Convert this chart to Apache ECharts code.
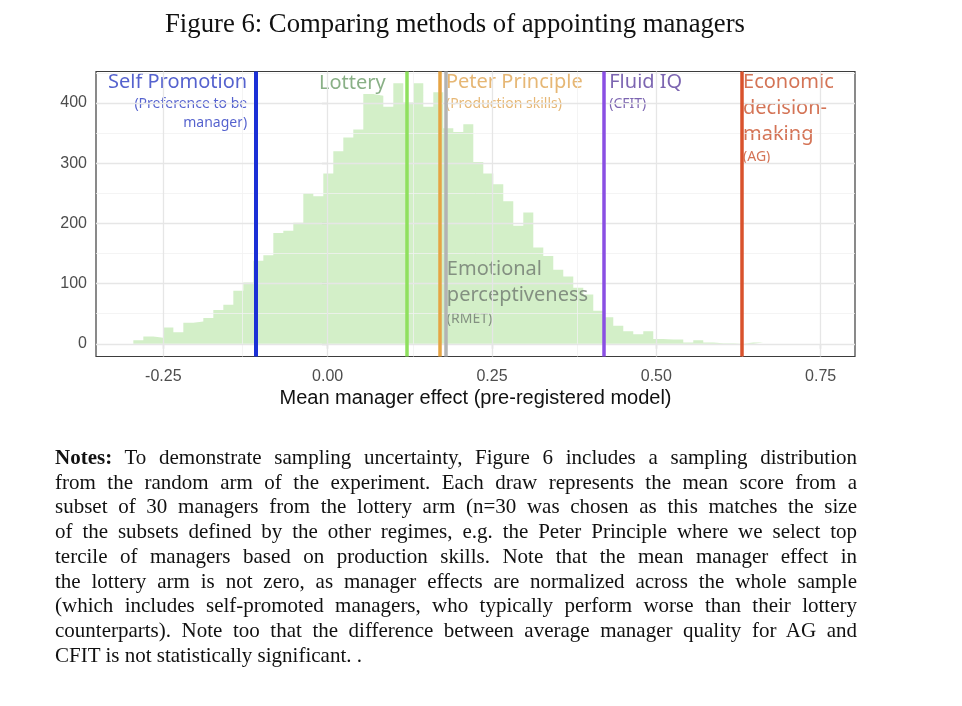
<!DOCTYPE html>
<html lang="en">
<head>
<meta charset="UTF-8">
<title>Figure 6: Comparing methods of appointing managers</title>
<script src="https://cdn.jsdelivr.net/npm/echarts@6.0.0/dist/echarts.min.js"></script>
<style>
    html, body { margin: 0; padding: 0; background: #fff; }
    #wrap { position: relative; width: 962px; height: 706px; overflow: hidden; }
    #main { position: absolute; left: 0; top: 0; width: 962px; height: 706px; }
    #title {
        position: absolute; top: 8px; left: 0; width: 910px;
        text-align: center; white-space: nowrap;
        font-family: "Liberation Serif", serif; font-size: 23px; color: #111;
    }
    #notes {
        position: absolute; left: 55px; top: 445px; width: 802px;
        font-family: "Liberation Serif", serif; font-size: 20px; line-height: 24.7px; color: #111;
    }
    #notes div { text-align: justify; text-align-last: justify; }
    #notes div.last { text-align: left; text-align-last: left; }
</style>
</head>
<body>
<div id="wrap">
    <div id="main"></div>
    <div id="title">Figure 6: Comparing methods of appointing managers</div>
    <div id="notes">
        <div><b>Notes:</b> To demonstrate sampling uncertainty, Figure 6 includes a sampling distribution</div>
        <div>from the random arm of the experiment. Each draw represents the mean score from a</div>
        <div>subset of 30 managers from the lottery arm (n=30 was chosen as this matches the size</div>
        <div>of the subsets defined by the other regimes, e.g. the Peter Principle where we select top</div>
        <div>tercile of managers based on production skills. Note that the mean manager effect in</div>
        <div>the lottery arm is not zero, as manager effects are normalized across the whole sample</div>
        <div>(which includes self-promoted managers, who typically perform worse than their lottery</div>
        <div>counterparts). Note too that the difference between average manager quality for AG and</div>
        <div class="last">CFIT is not statistically significant. .</div>
    </div>
</div>

<script>
    // histogram of the lottery-arm sampling distribution (count per bin)
    var binStart = -0.2956;
    var binWidth = 0.01521;
    var counts = [6, 12, 10, 27, 19, 35, 37, 43, 56, 65,
                  88, 102, 138, 147, 184, 188, 201, 250, 245, 283,
                  320, 343, 356, 415, 412, 394, 433, 401, 433, 394,
                  418, 358, 352, 365, 302, 283, 265, 237, 196, 218,
                  160, 146, 123, 112, 93, 82, 55, 44, 30, 21,
                  16, 21, 8, 7, 7, 2, 6, 2, 1, 1,
                  0, 2, 2];

    // mean manager effect of each appointment regime
    var regimes = ['Self Promotion', 'Lottery', 'Peter Principle',
                   'Emotional perceptiveness', 'Fluid IQ', 'Economic decision-making'];
    var regimeMeans = [-0.108, 0.118, 0.167, 0.176, 0.423, 0.625];
    var regimeColors = ['#1b30d6', '#8fe05e', '#e6a444', '#b3b3b3', '#8a4fe3', '#d9522c'];

    var xTicks = [-0.25, 0, 0.25, 0.5, 0.75];
    var xMinor = [-0.125, 0.125, 0.375, 0.625];
    var yTicks = [0, 100, 200, 300, 400];
    var yMinor = [50, 150, 250, 350, 450];

    var xMin = -0.3524, xMax = 0.8022;
    var yMin = -21.1, yMax = 452.5;

    // fit the caption fonts to the page widths
    function textWidth(txt, font) {
        var ctx = textWidth.ctx || (textWidth.ctx = document.createElement('canvas').getContext('2d'));
        ctx.font = font;
        return ctx.measureText(txt).width;
    }
    var titleEl = document.getElementById('title');
    var tw = textWidth(titleEl.textContent, '100px "Liberation Serif"');
    titleEl.style.fontSize = (100 * 580 / tw).toFixed(2) + 'px';

    var lines = document.querySelectorAll('#notes div');
    var widest = 0;
    lines.forEach(function (d) {
        var w = textWidth(d.textContent, '100px "Liberation Serif"');
        if (d.querySelector('b')) w += textWidth('Notes:', 'bold 100px "Liberation Serif"') - textWidth('Notes:', '100px "Liberation Serif"');
        widest = Math.max(widest, w);
    });
    var noteSize = Math.min(21, 100 * 790 / widest);
    document.getElementById('notes').style.fontSize = noteSize.toFixed(2) + 'px';

    var steps = counts.map(function (c, i) { return [binStart + i * binWidth, c]; });
    steps.push([binStart + counts.length * binWidth, counts[counts.length - 1]]);

    function grid(vals, axis, color, width) {
        return vals.map(function (v) {
            var o = { lineStyle: { color: color, width: width, type: 'solid' } };
            o[axis] = v;
            return o;
        });
    }

    var font = '"Noto Sans", sans-serif';
    function rich(color) {
        return {
            a: { fontFamily: font, fontSize: 20, lineHeight: 24, color: color },
            e: { fontFamily: font, fontSize: 20, lineHeight: 26, color: color },
            m: { fontFamily: font, fontSize: 20, lineHeight: 26.5, color: color },
            b: { fontFamily: font, fontSize: 14, lineHeight: 19, color: color },
            c: { fontFamily: font, fontSize: 14, lineHeight: 20, color: color }
        };
    }
    var annotations = [
        { value: [regimeMeans[0], yMax], label: { position: [-9, -0.7], align: 'right',
            formatter: '{a|Self Promotion}\n{b|(Preference to be}\n{b|manager)}', rich: rich('#2a3bc2') } },
        { value: [regimeMeans[1], yMax], label: { position: [-19, 0], align: 'right',
            formatter: '{a|Lottery}', rich: rich('#6c9c68') } },
        { value: [regimeMeans[2], yMax], label: { position: [9, -1], align: 'left',
            formatter: '{a|Peter Principle}\n{c|(Production skills)}', rich: rich('#e0a552') } },
        { value: [regimeMeans[3], 145], label: { position: [4, 0], align: 'left',
            formatter: '{m|Emotional}\n{m|perceptiveness}\n{c|(RMET)}', rich: rich('#6f786f') } },
        { value: [regimeMeans[4], yMax], label: { position: [4, -1], align: 'left',
            formatter: '{a|Fluid IQ}\n{c|(CFIT)}', rich: rich('#5b3f9e') } },
        { value: [regimeMeans[5], yMax], label: { position: [5, -2], align: 'left',
            formatter: '{e|Economic}\n{e|decision-}\n{e|making}\n{c|(AG)}', rich: rich('#c9512c') } }
    ];

    var myChart = echarts.init(document.getElementById('main'));
    var option = {
        animation: false,
        grid: {
            left: 96, top: 71.5, width: 759, height: 285,
            show: true, backgroundColor: '#fff', borderColor: '#3d3d3d', borderWidth: 1.2
        },
        xAxis: {
            type: 'value', min: xMin, max: xMax,
            name: 'Mean manager effect (pre-registered model)',
            nameLocation: 'middle', nameGap: 32,
            nameTextStyle: { fontFamily: '"Liberation Sans", Arial', fontSize: 20, color: '#111' },
            axisLine: { show: false },
            splitLine: { show: false },
            axisTick: { show: true, customValues: xTicks, length: 5, lineStyle: { color: '#333', width: 1.1 } },
            axisLabel: {
                customValues: xTicks, margin: 12,
                fontFamily: '"Liberation Sans", Arial', fontSize: 16, color: '#4d4d4d',
                formatter: function (v) { return v.toFixed(2); }
            }
        },
        yAxis: {
            type: 'value', min: yMin, max: yMax,
            axisLine: { show: false },
            splitLine: { show: false },
            axisTick: { show: true, customValues: yTicks, length: 6, lineStyle: { color: '#333', width: 1.1 } },
            axisLabel: {
                customValues: yTicks, margin: 9,
                fontFamily: '"Liberation Sans", Arial', fontSize: 16, color: '#4d4d4d'
            }
        },
        series: [
            {
                name: 'grid',
                type: 'line', data: [], z: 1, silent: true,
                markLine: {
                    silent: true, symbol: ['none', 'none'], label: { show: false },
                    animation: false,
                    data: [].concat(
                        grid(xMinor, 'xAxis', '#f1f1f1', 0.8),
                        grid(yMinor, 'yAxis', '#f1f1f1', 0.8),
                        grid(xTicks, 'xAxis', '#e6e6e6', 1.3),
                        grid(yTicks, 'yAxis', '#e6e6e6', 1.3)
                    )
                }
            },
            {
                name: 'lottery draws',
                type: 'line', step: 'end', data: steps, z: 2,
                symbol: 'none', silent: true,
                lineStyle: { opacity: 0, width: 0 },
                areaStyle: { color: 'rgba(140, 212, 110, 0.38)', opacity: 1 }
            },
            {
                name: 'regimes',
                type: 'line', data: [], z: 3, silent: true,
                markLine: {
                    silent: true, symbol: ['none', 'none'], label: { show: false },
                    animation: false,
                    data: regimeMeans.map(function (v, i) {
                        return { xAxis: v, name: regimes[i],
                                 lineStyle: { color: regimeColors[i], width: i === 0 ? 4 : 3.5, type: 'solid' } };
                    })
                }
            },
            {
                name: 'labels',
                type: 'scatter', z: 4, silent: true,
                symbolSize: 1, itemStyle: { color: 'rgba(0,0,0,0)' },
                label: { show: true, verticalAlign: 'top' },
                data: annotations
            }
        ]
    };
    myChart.setOption(option);
</script>
</body>
</html>
